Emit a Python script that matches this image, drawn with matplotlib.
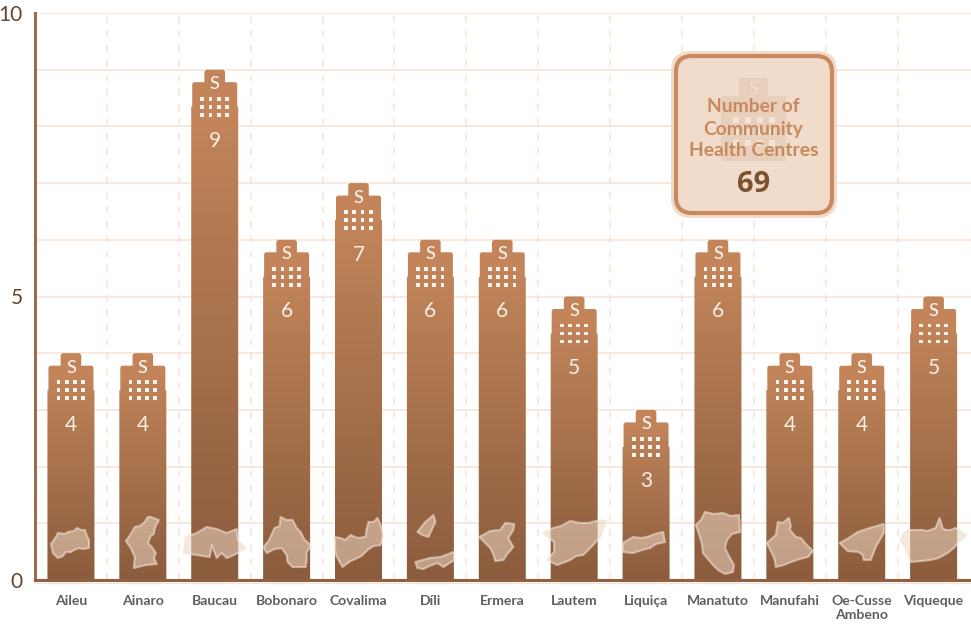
import matplotlib
matplotlib.use('Agg')
import matplotlib.pyplot as plt
import numpy as np
from matplotlib.colors import LinearSegmentedColormap
from matplotlib.patches import FancyBboxPatch, Polygon, Rectangle

plt.rcParams['font.family'] = ['Lato', 'DejaVu Sans']

districts = ['Aileu', 'Ainaro', 'Baucau', 'Bobonaro', 'Covalima', 'Díli', 'Ermera',
             'Lautem', 'Liquiça', 'Manatuto', 'Manufahi', 'Oe-Cusse\nAmbeno', 'Viqueque']
centres = [4, 4, 9, 6, 7, 6, 6, 5, 3, 6, 4, 4, 5]
y_labels = [0, 5, 10]

# district outlines, px from the bar centre / px above the baseline
aileu = [[(-20, 36), (-15, 43), (-13, 47), (-6, 46), (-3, 48), (3, 49), (6, 52), (10, 50), (14, 50), (16, 44), (18, 40), (18, 32), (12, 31), (8, 32), (3, 30), (0, 28), (-5, 28), (-8, 24), (-13, 22), (-18, 27)]]
ainaro = [[(-17, 39), (-12, 46), (-8, 53), (-3, 54), (2, 58), (5, 63), (8, 63), (16, 60), (12, 52), (11, 46), (8, 44), (5, 37), (9, 33), (13, 27), (11, 22), (14, 16), (3, 15), (-9, 12), (-8, 23), (-12, 32)]]
baucau = [[(-31, 27), (-29, 43), (-18, 47), (-8, 53), (2, 51), (12, 47), (22, 51), (23, 40), (31, 32), (23, 27), (17, 24), (12, 22), (7, 27), (2, 22), (-3, 35), (-5, 23), (-18, 25)]]
bobonaro = [[(-23, 33), (-18, 39), (-12, 52), (-7, 54), (-6, 63), (0, 60), (6, 60), (10, 52), (14, 48), (18, 40), (22, 37), (24, 33), (20, 28), (20, 20), (19, 13), (6, 13), (1, 18), (0, 25), (-5, 32), (-12, 31), (-20, 27)]]
covalima = [[(-24, 43), (-18, 42), (-13, 40), (-8, 45), (-1, 42), (7, 43), (8, 50), (10, 58), (15, 58), (19, 62), (22, 55), (25, 45), (22, 35), (15, 34), (9, 30), (3, 24), (-1, 22), (-8, 19), (-16, 13), (-22, 24), (-23, 27)]]
dili = [[(-13, 48), (-5, 58), (3, 65), (5, 58), (-2, 43), (-8, 45)],
        [(-15, 18), (-8, 20), (0, 22), (10, 23), (23, 28), (24, 20), (13, 13), (7, 17), (-1, 14), (-7, 11), (-13, 12)]]
ermera = [[(-23, 43), (-12, 49), (-2, 50), (3, 57), (12, 56), (11, 50), (6, 42), (11, 33), (5, 26), (1, 20), (-7, 19), (-9, 26), (-12, 32), (-18, 38)]]
lautem = [[(-31, 47), (-21, 52), (-13, 54), (-4, 59), (6, 57), (14, 57), (26, 60), (32, 59), (26, 43), (18, 34), (9, 25), (2, 24), (-4, 20), (-17, 15), (-27, 20), (-20, 28), (-20, 38), (-25, 42)]]
liquica = [[(-23, 37), (-13, 43), (-5, 42), (1, 43), (9, 46), (17, 48), (19, 38), (10, 36), (4, 32), (-4, 30), (-13, 27), (-23, 28)]]
manatuto = [[(-22, 55), (-17, 60), (-13, 68), (-4, 66), (5, 67), (13, 64), (21, 65), (22, 48), (14, 46), (9, 40), (7, 32), (11, 24), (16, 15), (15, 8), (7, 6), (0, 10), (-5, 15), (-10, 21), (-15, 27), (-16, 36), (-18, 43)]]
manufahi = [[(-23, 37), (-14, 45), (-12, 58), (-7, 57), (-1, 62), (1, 54), (0, 50), (6, 43), (11, 42), (17, 35), (23, 29), (18, 23), (10, 21), (1, 18), (-6, 15), (-14, 13), (-15, 20), (-17, 25)]]
oecusse = [[(-22, 37), (-13, 42), (-4, 48), (8, 52), (22, 56), (22, 47), (14, 33), (9, 20), (2, 20), (1, 25), (-3, 28), (-14, 29)]]
viqueque = [[(-33, 40), (-30, 47), (-25, 50), (-11, 50), (-6, 49), (2, 52), (6, 62), (9, 52), (12, 50), (17, 50), (22, 52), (33, 45), (25, 38), (20, 32), (14, 27), (5, 22), (-3, 20), (-23, 18), (-28, 32)]]
outlines = [aileu, ainaro, baucau, bobonaro, covalima, dili, ermera,
            lautem, liquica, manatuto, manufahi, oecusse, viqueque]

GRID = '#f7e2d4'
bar_cmap = LinearSegmentedColormap.from_list(
    'bar', [(0, '#8b5c3d'), (0.72, '#b57c53'), (0.9, '#c3845a'), (1, '#c3845a')])

fig = plt.figure(figsize=(9.71, 6.27), dpi=100, facecolor='white')
ax = fig.add_axes([35 / 971, 47 / 627, 936 / 971, 567 / 627])
xmin, xmax = -0.5, 12.52
ux = (xmax - xmin) / 936   # data units per pixel
uy = 10 / 567


def building_shape(i, top):
    # tower with a cupola, corners slightly cut, offsets counted down from the top
    right = [(8.5, 0), (10.3, 1.8), (10.3, 12.5), (21, 12.5), (22.5, 14), (22.5, 37), (23.5, 37)]
    pts = [(i - dx * ux, top - d * uy) for dx, d in right]
    pts += [(i - 23.5 * ux, 0), (i + 23.5 * ux, 0)]
    pts += [(i + dx * ux, top - d * uy) for dx, d in reversed(right)]
    return pts


for i, (v, outline) in enumerate(zip(centres, outlines)):
    clip = Polygon(building_shape(i, v), closed=True, transform=ax.transData,
                   facecolor='none', edgecolor='none')
    ax.add_patch(clip)
    im = ax.imshow(np.linspace(1, 0, 256).reshape(-1, 1), cmap=bar_cmap, vmin=0, vmax=1,
                   extent=(i - 0.34, i + 0.34, 0, v), aspect='auto', zorder=3)
    im.set_clip_path(clip)

    ax.text(i, v - 14.5 * uy, 'S', color='#fbf4ee', fontsize=13, fontweight='medium',
            ha='center', va='center', zorder=5)
    for row in (29, 37, 45):
        for dx in (-12.4, -4.2, 4, 12.2):
            ax.add_patch(Rectangle((i + (dx - 1.9) * ux, v - (row + 1.9) * uy), 3.8 * ux, 3.8 * uy,
                                   facecolor='#fbf4ee', edgecolor='none', zorder=5))
    ax.text(i, v - 71.5 * uy, str(v), color='#f9efe7', fontsize=15,
            ha='center', va='center', zorder=5)

    for part in outline:
        pts = [(i + dx * ux, h * uy) for dx, h in part]
        ax.add_patch(Polygon(pts, closed=True, facecolor='#edd7c4', edgecolor='none',
                             alpha=0.55, zorder=6))
        ax.add_patch(Polygon(pts, closed=True, facecolor='none', edgecolor='#f2e3d6',
                             alpha=0.6, linewidth=1.5, joinstyle='round', zorder=6))

ax.set_xlim(xmin, xmax)
ax.set_ylim(0, 10)
ax.set_yticks(y_labels)
ax.set_xticks(range(13))
ax.set_xticklabels(districts, fontsize=10.1, fontweight='bold', color='#5f5f5f', linespacing=1.2)
ax.tick_params(axis='x', length=0, pad=10.5)
ax.tick_params(axis='y', which='both', length=0, pad=9)
plt.setp(ax.get_yticklabels(), fontsize=15, color='#65462d')

ax.grid(False)
for y in range(1, 11):
    ax.axhline(y, color=GRID, linewidth=1.1, zorder=1)
for x in np.arange(0.5, 12.5):
    ax.axvline(x, color=GRID, linewidth=1.1, dashes=(4.6, 5), zorder=1)

for side in ('top', 'right'):
    ax.spines[side].set_visible(False)
ax.spines['left'].set_color('#9c6c4b')
ax.spines['left'].set_linewidth(2.2)
ax.spines['bottom'].set_color('#8f6041')
ax.spines['bottom'].set_linewidth(2.2)
ax.spines['left'].set_zorder(7)
ax.spines['bottom'].set_zorder(7)

# summary box, laid out in figure pixels on its own overlay axes
box = fig.add_axes([0, 0, 1, 1], facecolor='none')
box.set_xlim(0, 971)
box.set_ylim(627, 0)
box.axis('off')

# pale line under the baseline
box.plot([35, 971], [582.5, 582.5], color='#f3e3d8', linewidth=1, zorder=1)

box.add_patch(FancyBboxPatch((687, 67), 134, 135, boxstyle='round,pad=16,rounding_size=20',
                             facecolor='#f1dccb', edgecolor='none', zorder=1))
box.add_patch(FancyBboxPatch((690, 70), 128, 129, boxstyle='round,pad=14,rounding_size=16',
                             facecolor='#f1dccb', edgecolor='#c98a5f', linewidth=3, zorder=2))

# faint building behind the text
box.add_patch(FancyBboxPatch((741, 80), 25, 40, boxstyle='round,pad=2,rounding_size=3',
                             facecolor='#e8cfbb', edgecolor='none', zorder=3))
box.add_patch(FancyBboxPatch((723, 98), 61, 61, boxstyle='round,pad=2,rounding_size=2',
                             facecolor='#e8cfbb', edgecolor='none', zorder=3))
box.text(753.5, 89, 'S', color='#f1dccb', fontsize=13, fontweight='medium', ha='center', va='center', zorder=4)
for wy in (120, 132, 143):
    for wx in (736, 748, 760, 772):
        box.add_patch(Rectangle((wx - 2.8, wy - 2.8), 5.6, 5.6, facecolor='#f3e3d6',
                                edgecolor='none', zorder=4))

for wy, line in zip((106, 129, 151), ('Number of', 'Community', 'Health Centres')):
    box.text(753.5, wy, line, color='#c68a5e', fontsize=13.9, fontweight='bold',
             ha='center', va='center', zorder=5)
box.text(753.5, 185, str(sum(centres)), color='#7a5230', fontsize=21, fontweight='bold',
         family='Open Sans', ha='center', va='center', zorder=5)

fig.savefig('out.png', dpi=100)
